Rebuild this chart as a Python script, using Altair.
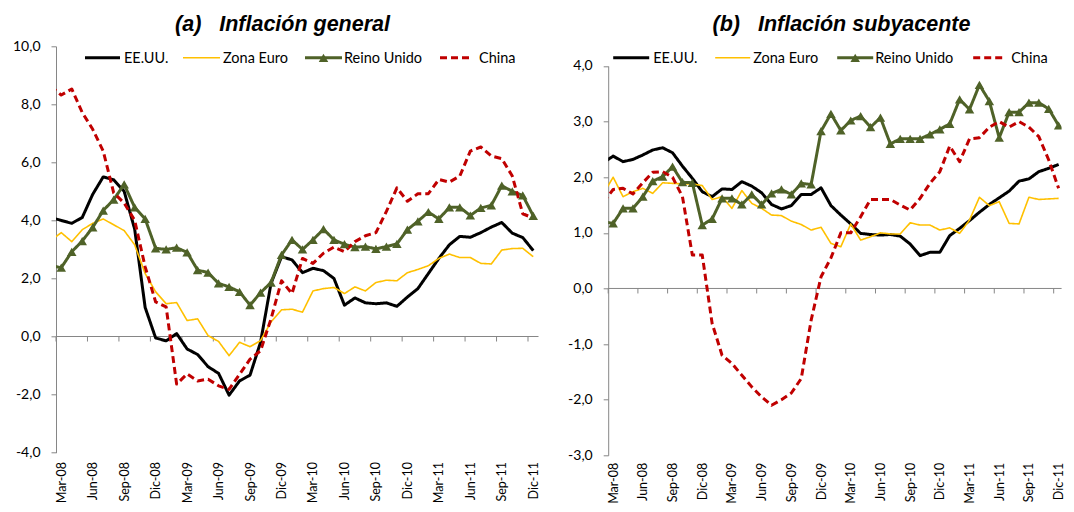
import altair as alt
import pandas as pd

# ---------------- data ----------------
meses = ["Feb-08", "Mar-08", "Abr-08", "May-08", "Jun-08", "Jul-08", "Ago-08", "Sep-08", "Oct-08", "Nov-08", "Dic-08",
         "Ene-09", "Feb-09", "Mar-09", "Abr-09", "May-09", "Jun-09", "Jul-09", "Ago-09", "Sep-09", "Oct-09", "Nov-09", "Dic-09",
         "Ene-10", "Feb-10", "Mar-10", "Abr-10", "May-10", "Jun-10", "Jul-10", "Ago-10", "Sep-10", "Oct-10", "Nov-10", "Dic-10",
         "Ene-11", "Feb-11", "Mar-11", "Abr-11", "May-11", "Jun-11", "Jul-11", "Ago-11", "Sep-11", "Oct-11", "Nov-11", "Dic-11"]

etiquetas = ["Mar-08", "Jun-08", "Sep-08", "Dic-08", "Mar-09", "Jun-09", "Sep-09", "Dic-09",
             "Mar-10", "Jun-10", "Sep-10", "Dic-10", "Mar-11", "Jun-11", "Sep-11", "Dic-11"]

series = ["EE.UU.", "Zona Euro", "Reino Unido", "China"]

titulos = ["(a)\u00a0\u00a0\u00a0Inflación general", "(b)\u00a0\u00a0\u00a0Inflación subyacente"]

# (a) Inflacion general
eeuu_a = [4.1, 4.0, 3.9, 4.1, 4.9, 5.5, 5.4, 5.0, 3.7, 1.0, -0.05,
          -0.15, 0.1, -0.43, -0.62, -1.04, -1.27, -2.02, -1.53, -1.33, -0.2, 1.83, 2.75,
          2.64, 2.2, 2.35, 2.27, 2.0, 1.08, 1.33, 1.16, 1.13, 1.16, 1.04, 1.36,
          1.65, 2.17, 2.69, 3.16, 3.45, 3.42, 3.58, 3.77, 3.93, 3.56, 3.41, 2.96]
euro_a = [3.3, 3.58, 3.27, 3.68, 3.9, 4.05, 3.85, 3.65, 3.16, 2.17, 1.54,
          1.13, 1.17, 0.55, 0.61, 0.03, -0.17, -0.66, -0.2, -0.35, -0.14, 0.5, 0.92,
          0.94, 0.84, 1.57, 1.65, 1.69, 1.48, 1.71, 1.57, 1.86, 1.94, 1.92, 2.2,
          2.31, 2.44, 2.69, 2.84, 2.72, 2.72, 2.52, 2.5, 2.98, 3.03, 3.04, 2.75]
ru_a = [2.45, 2.37, 2.92, 3.29, 3.76, 4.34, 4.72, 5.24, 4.45, 4.05, 3.04,
        3.0, 3.06, 2.9, 2.29, 2.2, 1.83, 1.71, 1.54, 1.08, 1.51, 1.86, 2.81,
        3.33, 3.0, 3.33, 3.70, 3.33, 3.18, 3.08, 3.1, 3.02, 3.1, 3.19, 3.68,
        3.97, 4.29, 4.05, 4.45, 4.45, 4.17, 4.43, 4.52, 5.2, 5.0, 4.86, 4.16]
china_a = [8.62, 8.32, 8.53, 7.72, 7.14, 6.39, 4.95, 4.6, 4.0, 2.4, 1.19,
           1.02, -1.64, -1.29, -1.53, -1.47, -1.7, -1.82, -1.3, -0.78, -0.49, 0.61, 1.92,
           1.48, 2.69, 2.52, 2.87, 3.08, 2.92, 3.27, 3.47, 3.58, 4.31, 5.12, 4.66,
           4.92, 4.92, 5.41, 5.32, 5.53, 6.39, 6.53, 6.22, 6.13, 5.53, 4.23, 4.08]

# (b) Inflacion subyacente
eeuu_b = [2.26, 2.38, 2.28, 2.32, 2.40, 2.49, 2.53, 2.44, 2.2, 1.98, 1.74,
          1.65, 1.79, 1.78, 1.92, 1.84, 1.72, 1.51, 1.43, 1.49, 1.69, 1.69, 1.81,
          1.49, 1.32, 1.16, 0.99, 0.97, 0.96, 0.97, 0.94, 0.8, 0.59, 0.65, 0.65,
          0.95, 1.08, 1.22, 1.37, 1.51, 1.63, 1.75, 1.93, 1.97, 2.1, 2.16, 2.23]
euro_b = [1.7, 2.0, 1.65, 1.74, 1.8, 1.71, 1.9, 1.89, 1.88, 1.88, 1.85,
          1.6, 1.65, 1.44, 1.76, 1.53, 1.44, 1.32, 1.31, 1.21, 1.15, 1.05, 1.1,
          0.81, 0.75, 1.16, 0.87, 0.93, 1.0, 0.98, 0.98, 1.18, 1.14, 1.14, 1.05,
          1.09, 0.99, 1.23, 1.64, 1.49, 1.56, 1.17, 1.16, 1.64, 1.6, 1.61, 1.62]
ru_b = [1.2, 1.17, 1.44, 1.44, 1.65, 1.93, 2.01, 2.19, 1.91, 1.9, 1.14,
        1.25, 1.62, 1.62, 1.51, 1.69, 1.51, 1.71, 1.78, 1.69, 1.89, 1.87, 2.83,
        3.14, 2.84, 3.02, 3.1, 2.9, 3.07, 2.6, 2.69, 2.69, 2.69, 2.77, 2.86,
        2.96, 3.4, 3.22, 3.66, 3.37, 2.71, 3.17, 3.17, 3.34, 3.34, 3.23, 2.93]
china_b = [1.55, 1.78, 1.8, 1.7, 1.9, 2.09, 2.1, 2.0, 1.65, 0.6, 0.6,
           -0.63, -1.2, -1.35, -1.56, -1.77, -1.95, -2.1, -2.0, -1.88, -1.62, -0.57, 0.21,
           0.55, 1.0, 1.0, 1.29, 1.6, 1.6, 1.6, 1.5, 1.41, 1.62, 1.89, 2.1,
           2.56, 2.28, 2.69, 2.71, 2.9, 3.0, 2.9, 3.0, 2.9, 2.73, 2.31, 1.8]

# ---------------- style / layout ----------------
FONT = "Lato"
FS_Y = 14
FS_X = 12.5
FS_LEG = 14.5
colores = ["#000000", "#FFC000", "#4F6228", "#C00000"]
guiones = [[1, 0], [1, 0], [1, 0], [7, 4]]
anchos = [3, 1.6, 3, 3]
GRIS = "#868686"
VERDE = "#4F6228"
TRI = 90

# legend layout: (swatch start, swatch length, label start) in px from plot-left
LEG_A = [(29, 35, 68), (127, 37, 167), (249, 37, 288), (384, 32, 423)]
LEG_B = [(5, 36, 45), (107, 35, 145), (229, 36, 267), (365, 31, 403)]
LEG_Y = 11.5

label_pos = [meses.index(e) - 0.5 for e in etiquetas]
tick_pos = [meses.index(e) - 1 for e in etiquetas]
label_expr = str(etiquetas).replace('"', "'") + "[round((datum.value - 0.5) / 3)]"
ylab_expr = "(datum.value < 0 ? '-' : '') + replace(format(abs(datum.value), '.1f'), '.', ',')"


def leyenda(layout):
    capas = []
    for s, col, dash, sw, (x0, ln, xl) in zip(series, colores, guiones, anchos, layout):
        d = pd.DataFrame({"serie": [s]})
        capas.append(alt.Chart(d).mark_rule(color=col, strokeWidth=sw, strokeDash=dash).encode(
            x=alt.value(x0), x2=alt.value(x0 + ln), y=alt.value(LEG_Y)))
        if s == "Reino Unido":
            capas.append(alt.Chart(d).mark_point(shape="triangle-up", filled=True, size=TRI,
                                                 color=VERDE, opacity=1).encode(
                x=alt.value(x0 + ln / 2), y=alt.value(LEG_Y)))
        capas.append(alt.Chart(d).mark_text(align="left", baseline="middle", font=FONT,
                                            fontSize=FS_LEG, color="#000000").encode(
            x=alt.value(xl), y=alt.value(LEG_Y + 1), text="serie:N"))
    return capas


def panel(datos, ydom, yvals, w, h, xmax, yrange, titulo, tx, layout, lpad):
    rows = []
    for s, vals in zip(series, datos):
        for k, v in enumerate(vals):
            rows.append({"serie": s, "mes": meses[k], "pos": k - 0.5, "valor": v})
    df = pd.DataFrame(rows)

    xscale = alt.Scale(domain=[0, xmax], nice=False, zero=False)
    ysc = dict(domain=ydom, nice=False, zero=False)
    if yrange is not None:
        ysc["range"] = yrange
    yscale = alt.Scale(**ysc)

    xaxis = alt.Axis(values=label_pos, labelExpr=label_expr, labelAngle=-90, domain=False,
                     ticks=False, grid=False, labelPadding=lpad, labelFont=FONT,
                     labelFontSize=FS_X, labelColor="#000000", labelFlush=False,
                     labelOverlap=False, title=None)
    yaxis = alt.Axis(values=yvals, labelExpr=ylab_expr, domainColor=GRIS, tickColor=GRIS,
                     tickSize=5, labelPadding=11, grid=False, labelFont=FONT,
                     labelFontSize=FS_Y, labelColor="#000000", labelFlush=False,
                     labelOverlap=False, title=None)
    xenc = alt.X("pos:Q", scale=xscale, axis=xaxis, title=None)
    yenc = alt.Y("valor:Q", scale=yscale, axis=yaxis, title=None)

    base = alt.Chart(df)
    cero = alt.Chart(pd.DataFrame({"valor": [0]})).mark_rule(color=GRIS, strokeWidth=1).encode(y=yenc)
    marcas = alt.Chart(pd.DataFrame({"pos": tick_pos, "valor": [0] * len(tick_pos)})).mark_rule(
        color=GRIS, strokeWidth=1, y2Offset=5).encode(x=xenc, y=yenc, y2="valor:Q")
    lineas = base.mark_line(clip=True, strokeJoin="round").encode(
        x=xenc, y=yenc,
        color=alt.Color("serie:N", scale=alt.Scale(domain=series, range=colores), legend=None),
        strokeDash=alt.StrokeDash("serie:N", scale=alt.Scale(domain=series, range=guiones), legend=None),
        strokeWidth=alt.condition("datum.serie === 'Zona Euro'", alt.value(1.6), alt.value(3)),
    )
    triangulos = base.transform_filter("datum.serie === 'Reino Unido'").mark_point(
        shape="triangle-up", filled=True, size=TRI, color=VERDE, opacity=1, clip=True).encode(
        x=xenc, y=yenc)
    tit = alt.Chart(pd.DataFrame({"t": [titulo]})).mark_text(
        font="Liberation Sans", fontSize=21.5, fontWeight="bold", fontStyle="italic",
        align="center", baseline="alphabetic", color="#000000").encode(
        x=alt.value(tx), y=alt.value(-15.5), text="t:N")

    return alt.layer(cero, marcas, lineas, triangulos, tit, *leyenda(layout)).properties(
        width=w, height=h)


# panel (a): 10.49 px per month; panel (b): 9.9 px per month (right edge fits the page)
pa = panel([eeuu_a, euro_a, ru_a, china_a], [-4, 10], [-4, -2, 0, 2, 4, 6, 8, 10],
           482.5, 406.3, 46, None, titulos[0], 226.5, LEG_A, 9)
pb = panel([eeuu_b, euro_b, ru_b, china_b], [-3, 4], [-3, -2, -1, 0, 1, 2, 3, 4],
           453.4, 409, 45.8, [409, 19.7], titulos[1], 233.3, LEG_B, 7)

chart = alt.hconcat(pa, pb, spacing=69.2, bounds="flush").resolve_scale(
    color="independent", strokeDash="independent", x="independent", y="independent"
).properties(
    padding={"left": 4, "top": 5.3, "right": 0, "bottom": 0}, background="white"
).configure_view(stroke=None)

chart.save("out.html", embed_options={"renderer": "svg", "actions": False})
